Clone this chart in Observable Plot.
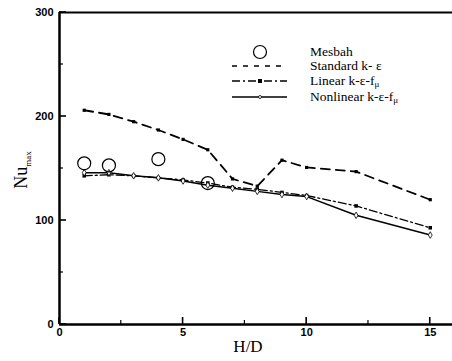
<!DOCTYPE html>
<html><head><meta charset="utf-8">
<script src="https://cdn.jsdelivr.net/npm/d3@7"></script>
<script src="https://cdn.jsdelivr.net/npm/@observablehq/plot@0.6"></script>
<style>
body{margin:0;background:#fff;}
#wrap{position:relative;width:452px;height:361px;}
#wrap svg{position:absolute;left:0;top:0;}
</style>
</head><body><div id="wrap"></div>
<script>
const hd = [1, 2, 3, 4, 5, 6, 7, 8, 9, 10, 12, 15];
const standard = [206, 202, 195, 187, 178, 168, 140, 133, 158, 151, 147, 120];
const linear = [143, 144, 143, 141, 139, 136, 132, 130, 127, 124, 114, 93];
const nonlinear = [146, 146, 143, 141, 138, 134, 131, 128, 125, 123, 105, 86];
const mesbahX = [1, 2, 4, 6];
const mesbahY = [155, 153, 159, 136];
const seriesNames = ["Mesbah", "Standard k- ε", "Linear k-ε-f", "Nonlinear k-ε-f"];
const yTicks = [0, 100, 200, 300];
const yMinor = [50, 150, 250];
const xTicks = [0, 5, 10, 15];
const xMinor = [2.5, 7.5, 12.5];

const std = hd.map((x, i) => ({x, y: standard[i]}));
const lin = hd.map((x, i) => ({x, y: linear[i]}));
const non = hd.map((x, i) => ({x, y: nonlinear[i]}));
const mes = mesbahX.map((x, i) => ({x, y: mesbahY[i]}));

const W = 452, H = 361;
const tickFont = {fontFamily: "Liberation Sans, Arial, sans-serif", fontWeight: "bold", fontSize: 11};
const chart = Plot.plot({
  width: W, height: H,
  marginLeft: 59, marginRight: 0, marginTop: 12, marginBottom: 37,
  style: {background: "#fff", color: "#000"},
  x: {domain: [0, 15.9]},
  y: {domain: [0, 300]},
  marks: [
    Plot.ruleY([300], {stroke: "#000", strokeWidth: 2}),
    Plot.axisY({ticks: yTicks, tickSize: 0, tickPadding: 6, label: null, ...tickFont}),
    Plot.axisX({ticks: xTicks, tickSize: 0, tickPadding: 4, label: null, ...tickFont}),
    Plot.ruleX([0], {stroke: "#000", strokeWidth: 2.5}),
    Plot.ruleY([0], {stroke: "#000", strokeWidth: 2.5}),
    Plot.line(std, {x: "x", y: "y", stroke: "#000", strokeWidth: 1.8, strokeDasharray: "9,6"}),
    Plot.dot(std, {x: "x", y: "y", r: 1.8, fill: "#000", symbol: "square"}),
    Plot.line(lin, {x: "x", y: "y", stroke: "#000", strokeWidth: 1.3, strokeDasharray: "8,3,2,3"}),
    Plot.dot(lin, {x: "x", y: "y", r: 2, fill: "#000", symbol: "square"}),
    Plot.line(non, {x: "x", y: "y", stroke: "#000", strokeWidth: 1.5}),
    Plot.dot(non, {x: "x", y: "y", r: 2, fill: "#fff", stroke: "#000", strokeWidth: 0.8, symbol: "diamond"}),
    Plot.dot(mes, {x: "x", y: "y", r: 6.5, stroke: "#000", strokeWidth: 1.2, fill: "none"})
  ]
});
const wrap = document.getElementById("wrap");
wrap.appendChild(chart);

// overlay: inward ticks (from Plot's own scales), axis titles and legend
const xs = chart.scale("x"), ys = chart.scale("y");
const ov = d3.select(wrap).append("svg").attr("width", W).attr("height", H)
  .style("pointer-events", "none");
const x0 = xs.apply(0), y0 = ys.apply(0);
const tk = ov.append("g").attr("stroke", "#000");
yTicks.forEach(t => tk.append("line").attr("x1", x0).attr("x2", x0 + 7)
  .attr("y1", ys.apply(t)).attr("y2", ys.apply(t)).attr("stroke-width", 1.6));
yMinor.forEach(t => tk.append("line").attr("x1", x0).attr("x2", x0 + 4)
  .attr("y1", ys.apply(t)).attr("y2", ys.apply(t)).attr("stroke-width", 1.2));
xTicks.forEach(t => tk.append("line").attr("y1", y0).attr("y2", y0 - 7)
  .attr("x1", xs.apply(t)).attr("x2", xs.apply(t)).attr("stroke-width", 1.6));
xMinor.forEach(t => tk.append("line").attr("y1", y0).attr("y2", y0 - 4)
  .attr("x1", xs.apply(t)).attr("x2", xs.apply(t)).attr("stroke-width", 1.2));

const serif = "Liberation Serif, Times New Roman, serif";
ov.append("text").attr("x", 248).attr("y", 352).attr("text-anchor", "middle")
  .attr("font-family", serif).attr("font-size", 17).text("H/D");
const yl = ov.append("text").attr("transform", "translate(27,170) rotate(-90)")
  .attr("text-anchor", "middle").attr("font-family", serif).attr("font-size", 18);
yl.append("tspan").text("Nu");
yl.append("tspan").attr("font-size", 9).attr("dy", 4).text("max");

const legX1 = 232, legX2 = 287, legT = 310;
const rows = [52, 66, 81, 97];
const lg = ov.append("g");
lg.append("circle").attr("cx", 260).attr("cy", rows[0]).attr("r", 6.5)
  .attr("fill", "none").attr("stroke", "#000").attr("stroke-width", 1.2);
lg.append("line").attr("x1", legX1).attr("x2", legX2).attr("y1", rows[1]).attr("y2", rows[1])
  .attr("stroke", "#000").attr("stroke-width", 1.5).attr("stroke-dasharray", "5,6");
lg.append("line").attr("x1", legX1).attr("x2", legX2).attr("y1", rows[2]).attr("y2", rows[2])
  .attr("stroke", "#000").attr("stroke-width", 1.3).attr("stroke-dasharray", "8,3,2,3");
lg.append("rect").attr("x", 258).attr("y", rows[2] - 2).attr("width", 4).attr("height", 4).attr("fill", "#000");
lg.append("line").attr("x1", legX1).attr("x2", legX2).attr("y1", rows[3]).attr("y2", rows[3])
  .attr("stroke", "#000").attr("stroke-width", 1.5);
lg.append("circle").attr("cx", 260).attr("cy", rows[3]).attr("r", 1.5).attr("fill", "#fff").attr("stroke", "#000").attr("stroke-width", 0.8);
seriesNames.forEach((name, i) => {
  const t = lg.append("text").attr("x", legT).attr("y", rows[i] + 4)
    .attr("font-family", serif).attr("font-size", 13.5).text(name);
  if (i >= 2) t.append("tspan").attr("font-size", 9).attr("dy", 2).text("μ");
});
</script></body></html>
